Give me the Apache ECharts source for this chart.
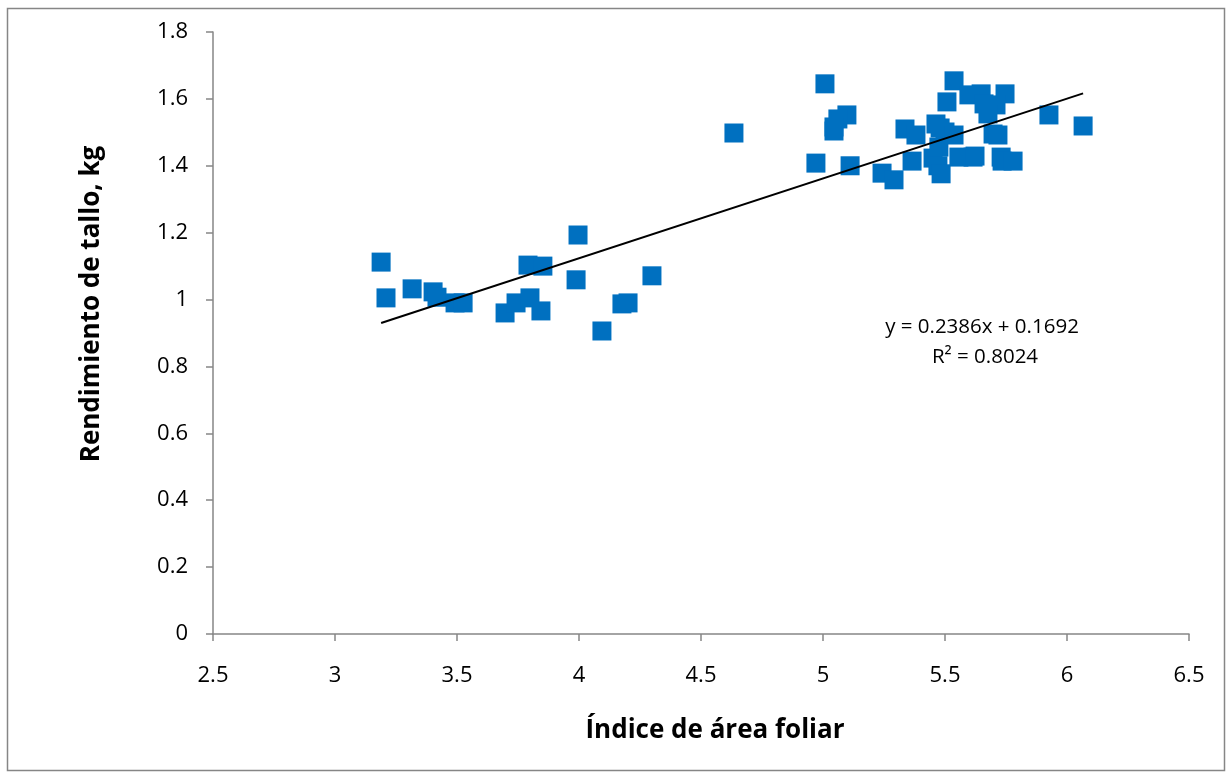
<!DOCTYPE html>
<html>
<head>
<meta charset="utf-8">
<script src="https://cdn.jsdelivr.net/npm/echarts@6/dist/echarts.min.js"></script>
<style>
  html, body { margin: 0; padding: 0; background: #fff; }
  #main { width: 1228px; height: 776px; }
</style>
</head>
<body>
<div id="main"></div>
<script>
// Indice de area foliar (x) y rendimiento de tallo (y)
var iaf = [3.189, 3.209, 3.316, 3.402, 3.418, 3.492, 3.525, 3.697, 3.742, 3.791,
  3.799, 3.852, 3.844, 3.996, 3.988, 4.094, 4.176, 4.201, 4.299, 4.635,
  5.008, 5.098, 5.061, 5.045, 5.045, 4.971, 5.111, 5.242, 5.291, 5.336,
  5.537, 5.508, 5.598, 5.648, 5.746, 5.660, 5.709, 5.676, 5.926, 6.066,
  5.381, 5.463, 5.480, 5.500, 5.537, 5.475, 5.697, 5.717, 5.365, 5.451,
  5.471, 5.484, 5.557, 5.615, 5.623, 5.730, 5.734, 5.779];
var rendimiento = [1.112, 1.005, 1.032, 1.023, 1.007, 0.990, 0.990, 0.960, 0.990, 1.103,
  1.005, 1.100, 0.966, 1.193, 1.059, 0.906, 0.987, 0.990, 1.071, 1.498,
  1.645, 1.552, 1.540, 1.516, 1.504, 1.408, 1.400, 1.378, 1.358, 1.510,
  1.654, 1.591, 1.612, 1.615, 1.615, 1.585, 1.582, 1.555, 1.552, 1.519,
  1.492, 1.525, 1.513, 1.501, 1.492, 1.456, 1.495, 1.492, 1.414, 1.423,
  1.400, 1.376, 1.426, 1.426, 1.429, 1.426, 1.414, 1.414];

// Linea de tendencia
var pendiente = 0.2386;
var intercepto = 0.1692;
var ecuacion = 'y = 0.2386x + 0.1692';
var r2 = 'R² = 0.8024';

var puntos = iaf.map(function (x, i) { return [x, rendimiento[i]]; });
var xmin = Math.min.apply(null, iaf);
var xmax = Math.max.apply(null, iaf);
var tendencia = [[xmin, pendiente * xmin + intercepto], [xmax, pendiente * xmax + intercepto]];

var fuente = '"Open Sans", "Noto Sans", sans-serif';
var gris = '#868686';

var grafico = echarts.init(document.getElementById('main'));
var option = {
  animation: false,
  grid: { left: 213, right: 39, top: 32, bottom: 142 },
  xAxis: {
    type: 'value',
    min: 2.5,
    max: 6.5,
    interval: 0.5,
    splitLine: { show: false },
    axisLine: { lineStyle: { color: gris, width: 1.5 } },
    axisTick: { inside: false, length: 7, lineStyle: { color: gris, width: 1.5 } },
    axisLabel: { color: '#000', fontSize: 22, fontFamily: fuente, margin: 31 }
  },
  yAxis: {
    type: 'value',
    min: 0,
    max: 1.8,
    interval: 0.2,
    splitLine: { show: false },
    axisLine: { show: true, lineStyle: { color: gris, width: 1.5 } },
    axisTick: { show: true, length: 7, lineStyle: { color: gris, width: 1.5 } },
    axisLabel: {
      color: '#000', fontSize: 22, fontFamily: fuente, margin: 25,
      formatter: function (v) { return String(Math.round(v * 10) / 10); }
    }
  },
  series: [{
    type: 'scatter',
    symbol: 'rect',
    symbolSize: 19,
    itemStyle: { color: '#0070C0', opacity: 1 },
    data: puntos,
    z: 2
  }, {
    type: 'line',
    symbol: 'none',
    lineStyle: { color: '#000', width: 2 },
    data: tendencia,
    z: 3
  }],
  graphic: [{
    type: 'rect',
    shape: { x: 7.5, y: 8.5, width: 1217, height: 762 },
    style: { fill: 'none', stroke: gris, lineWidth: 1.5 },
    silent: true
  }, {
    type: 'text',
    x: 715, y: 731,
    style: {
      text: 'Índice de área foliar', font: 'bold 26px ' + fuente,
      fill: '#000', align: 'center', verticalAlign: 'middle'
    }
  }, {
    type: 'text',
    x: 92, y: 304,
    rotation: Math.PI / 2,
    style: {
      text: 'Rendimiento de tallo, kg', font: 'bold 26px ' + fuente,
      fill: '#000', align: 'center', verticalAlign: 'middle'
    }
  }, {
    type: 'text',
    x: 982, y: 327,
    style: {
      text: ecuacion, font: '20.5px ' + fuente,
      fill: '#000', align: 'center', verticalAlign: 'middle'
    }
  }, {
    type: 'text',
    x: 985, y: 357,
    style: {
      text: r2, font: '20.5px ' + fuente,
      fill: '#000', align: 'center', verticalAlign: 'middle'
    }
  }]
};
grafico.setOption(option);
</script>
</body>
</html>
